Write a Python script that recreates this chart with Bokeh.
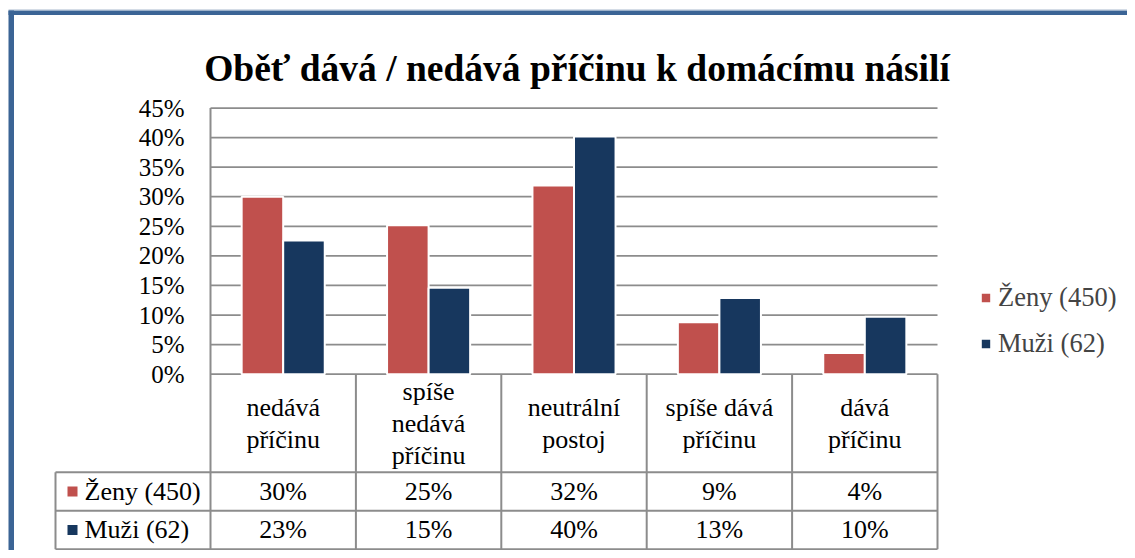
from bokeh.plotting import figure
from bokeh.models import Range1d, Legend, LegendItem
from bokeh.core.properties import value
from bokeh.embed import file_html
from bokeh.resources import INLINE

# ---------------- data ----------------
title_text = "Oběť dává / nedává příčinu k domácímu násilí"
categories = ["nedává\npříčinu", "spíše\nnedává\npříčinu", "neutrální\npostoj",
              "spíše dává\npříčinu", "dává\npříčinu"]
series_names = ["Ženy (450)", "Muži (62)"]
zeny = [0.300, 0.252, 0.319, 0.088, 0.036]
muzi = [0.226, 0.146, 0.402, 0.129, 0.097]
y_ticks = [0.00, 0.05, 0.10, 0.15, 0.20, 0.25, 0.30, 0.35, 0.40, 0.45]
tick_labels = ["0%", "5%", "10%", "15%", "20%", "25%", "30%", "35%", "40%", "45%"]

# ---------------- style ----------------
RED = "#C0504D"
NAVY = "#17375E"
GRID = "#8C8C8C"
BORDER = "#3B6495"
FONT_NAME = "Times New Roman, Liberation Serif, serif"
FONT = value(FONT_NAME)

# ---------------- layout (pixels) ----------------
PX0, PY0 = 0, 0
W, H = 1127, 550
AREA_L, AREA_R = 210, 937
AREA_TOP, AREA_ZERO = 107.5, 373.7
YMAX = y_ticks[-1]
n = len(categories)
ux = (AREA_R - AREA_L) / n
uy = (AREA_ZERO - AREA_TOP) / YMAX


def dx(px):
    return (px - AREA_L) / ux


def dy(py):
    return (AREA_ZERO - py) / uy


p = figure(width=W, height=H, x_range=Range1d(dx(PX0), dx(PX0 + W)),
           y_range=Range1d(dy(PY0 + H), dy(PY0)),
           x_axis_location=None, y_axis_location=None,
           toolbar_location=None, output_backend="svg", min_border=0)
p.outline_line_color = None
p.background_fill_color = "white"
p.border_fill_color = "white"
for g in p.grid:
    g.visible = False

# outer frame border (left and top), with faint outer edge
p.segment(x0=[dx(8)], x1=[dx(PX0 + W)], y0=[dy(9)], y1=[dy(9)],
          line_color="#D4DCE6", line_width=1)
p.quad(left=[dx(8), dx(8)], right=[dx(13.5), dx(PX0 + W)],
       top=[dy(10), dy(10)], bottom=[dy(PY0 + H), dy(14.5)],
       fill_color=BORDER, line_color=None)

# title
p.text(x=[dx(576.5)], y=[dy(68)], text=[title_text], text_font=FONT,
       text_font_size="37.5px", text_font_style="bold", text_align="center",
       text_baseline="alphabetic", text_color="black")

# gridlines
p.segment(x0=[0] * len(y_ticks), x1=[n] * len(y_ticks), y0=y_ticks, y1=y_ticks,
          line_color=GRID, line_width=1.75)

# y tick labels
p.text(x=[dx(184)] * len(y_ticks), y=y_ticks, text=tick_labels, text_font=FONT,
       text_font_size="25px", text_align="right", text_baseline="middle",
       text_color="black")

# bars
bw = 1 / 3.5
xs = [i + 0.5 for i in range(n)]
r1 = p.vbar(x=[x - bw / 2 for x in xs], top=zeny, width=bw, bottom=0,
            fill_color=RED, line_color="white", line_width=2)
r2 = p.vbar(x=[x + bw / 2 for x in xs], top=muzi, width=bw, bottom=0,
            fill_color=NAVY, line_color="white", line_width=2)

# data table
HEADER_PX, ROW_PX = 98, 38.5
y_head = dy(AREA_ZERO + HEADER_PX)
y_r1 = dy(AREA_ZERO + HEADER_PX + ROW_PX)
y_r2 = dy(AREA_ZERO + HEADER_PX + 2 * ROW_PX)
x_leg = dx(55)

# vertical table lines
p.segment(x0=[0], x1=[0], y0=[YMAX], y1=[y_r2], line_color=GRID, line_width=2)
p.segment(x0=list(range(1, n + 1)), x1=list(range(1, n + 1)),
          y0=[0] * n, y1=[y_r2] * n, line_color=GRID, line_width=2)
p.segment(x0=[x_leg], x1=[x_leg], y0=[y_head], y1=[y_r2], line_color=GRID, line_width=2)
# horizontal table lines
p.segment(x0=[x_leg] * 3, x1=[n] * 3, y0=[y_head, y_r1, y_r2], y1=[y_head, y_r1, y_r2],
          line_color=GRID, line_width=2)

# header texts
p.text(x=xs, y=[(0 + y_head) / 2] * n, text=categories, text_font=FONT,
       text_font_size="26px", text_align="center", text_baseline="middle",
       text_line_height=1.1, text_color="black")

row_y = [(y_head + y_r1) / 2, (y_r1 + y_r2) / 2]
for vals, yy in zip([zeny, muzi], row_y):
    p.text(x=xs, y=[yy] * n, text=[f"{round(v * 100)}%" for v in vals], text_font=FONT,
           text_font_size="26px", text_align="center", text_baseline="middle",
           text_color="black")

# row legend keys
p.scatter(x=[dx(72)] * 2, y=row_y, marker="square", size=10,
          fill_color=[RED, NAVY], line_color=None)
p.text(x=[dx(84)] * 2, y=row_y, text=series_names, text_font=FONT,
       text_font_size="26px", text_align="left", text_baseline="middle",
       text_color="black")

# legend
legend = Legend(items=[LegendItem(label=series_names[0], renderers=[r1]),
                       LegendItem(label=series_names[1], renderers=[r2])],
                location=(979, 191), orientation="vertical",
                border_line_color=None, background_fill_alpha=0,
                padding=0, margin=0, spacing=15, glyph_width=13, glyph_height=13,
                label_standoff=6, label_text_font=FONT_NAME, label_text_font_size="26.5px",
                label_text_baseline="middle", label_height=30)
p.add_layout(legend)

open("out.html", "w").write(file_html(p, INLINE))
